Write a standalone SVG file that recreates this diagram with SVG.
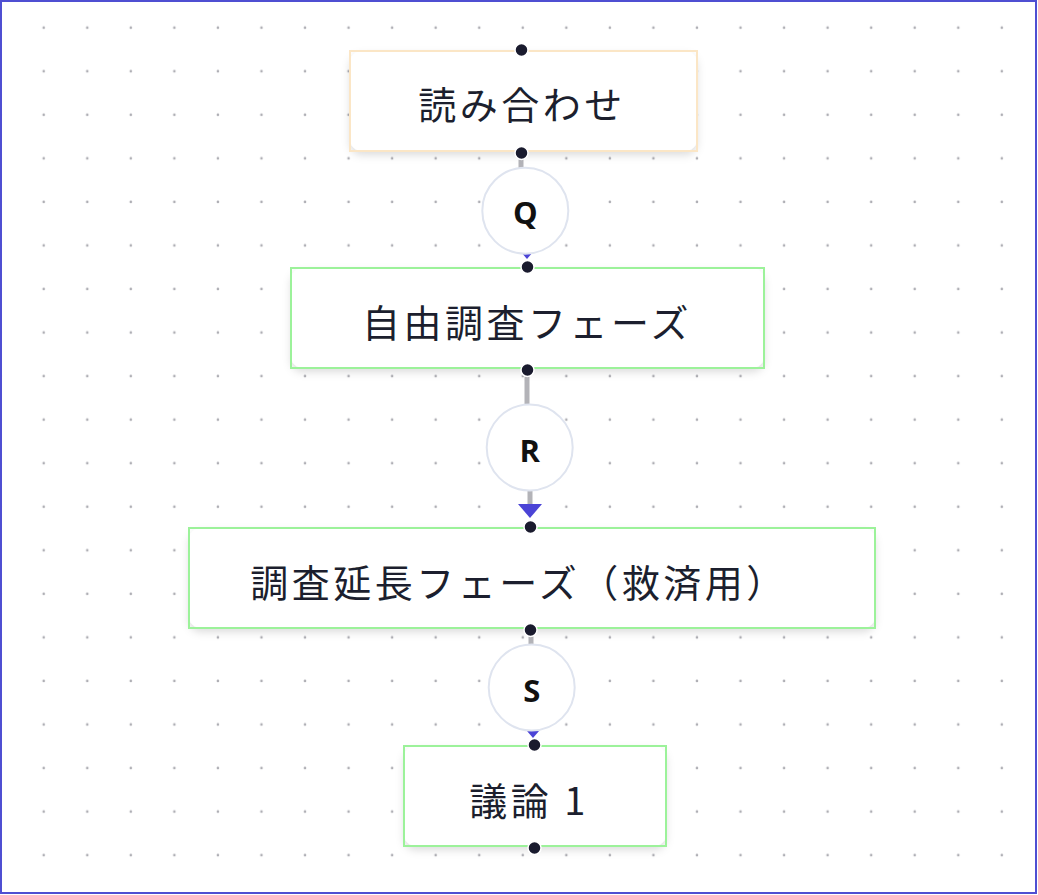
<svg xmlns="http://www.w3.org/2000/svg" width="1038" height="895" viewBox="0 0 1038 895">
  <style>
    .card { fill: #ffffff; filter: url(#shadow); }
    .frame-orange { fill: none; stroke: #fbe6c6; stroke-width: 2; }
    .frame-green { fill: none; stroke: #9cf29a; stroke-width: 2; }
    .label { font-family: "Noto Sans CJK JP", "Noto Sans", sans-serif; font-size: 38px; letter-spacing: 3.5px; fill: #1c1f2e; text-anchor: middle; dominant-baseline: central; }
    .edge { fill: none; stroke: #b3b3b8; stroke-width: 5; }
    .arrow { fill: #4b44d6; }
    .badge { fill: #ffffff; stroke: #dfe4ef; stroke-width: 2; }
    .badge-text { font-family: "Open Sans", "Noto Sans", sans-serif; font-weight: 700; font-size: 31px; fill: #111111; text-anchor: middle; dominant-baseline: central; }
    .handle { fill: #1a1b2e; stroke: #ffffff; stroke-width: 1.5; }
  </style>
  <defs>
    <pattern id="dots" patternUnits="userSpaceOnUse" x="22" y="6" width="43.55" height="43.55">
      <circle cx="21.7" cy="21.7" r="1.3" fill="#aeaeb4"/>
    </pattern>
    <filter id="shadow" x="-10%" y="-20%" width="120%" height="150%">
      <feDropShadow dx="0" dy="4" stdDeviation="4" flood-color="#000000" flood-opacity="0.14"/>
    </filter>
  </defs>

  <!-- canvas -->
  <rect x="0" y="0" width="1038" height="895" fill="#ffffff"/>
  <rect x="0" y="0" width="1038" height="895" fill="url(#dots)"/>
  <rect x="1" y="1" width="1035" height="892" fill="none" stroke="#4f4fd2" stroke-width="2"/>

  <!-- connectors -->
  <g id="connectors">
    <path class="edge" d="M521,156 L521,200 L527,200 L527,246"/>
    <polygon class="arrow" points="515,245 539,245 527,259"/>
    <path class="edge" d="M527,373 L527,404 M530,490 L530,506"/>
    <polygon class="arrow" points="518,504 542,504 530,518"/>
    <path class="edge" d="M531,633 L531,670 L533,670 L533,724"/>
    <polygon class="arrow" points="521,724 545,724 533,738"/>
  </g>

  <!-- edge labels -->
  <g id="label-q">
    <circle class="badge" cx="525.3" cy="210.7" r="43"/>
    <text class="badge-text" x="525.3" y="212">Q</text>
  </g>
  <g id="label-r">
    <circle class="badge" cx="529.7" cy="447.5" r="43"/>
    <text class="badge-text" x="529.7" y="450">R</text>
  </g>
  <g id="label-s">
    <circle class="badge" cx="531.7" cy="687.5" r="43"/>
    <text class="badge-text" x="531.7" y="690">S</text>
  </g>

  <!-- nodes -->
  <g id="node-read-through">
    <rect class="card" x="350" y="51" width="347" height="100" rx="12"/>
    <rect class="frame-orange" x="350" y="51" width="347" height="100"/>
    <text class="label" x="522" y="102">読み合わせ</text>
    <circle class="handle" cx="521.5" cy="50" r="6.5"/>
    <circle class="handle" cx="521.5" cy="153" r="6.5"/>
  </g>

  <g id="node-free-investigation">
    <rect class="card" x="291" y="268" width="473" height="100" rx="12"/>
    <rect class="frame-green" x="291" y="268" width="473" height="100"/>
    <text class="label" x="527" y="320">自由調査フェーズ</text>
    <circle class="handle" cx="527.5" cy="267" r="6.5"/>
    <circle class="handle" cx="527.5" cy="370" r="6.5"/>
  </g>

  <g id="node-extended-investigation">
    <rect class="card" x="189" y="528" width="686" height="100" rx="12"/>
    <rect class="frame-green" x="189" y="528" width="686" height="100"/>
    <text class="label" x="519" y="580">調査延長フェーズ（救済用）</text>
    <circle class="handle" cx="530.5" cy="527" r="6.5"/>
    <circle class="handle" cx="530.5" cy="630" r="6.5"/>
  </g>

  <g id="node-discussion-1">
    <rect class="card" x="404" y="746" width="262" height="100" rx="12"/>
    <rect class="frame-green" x="404" y="746" width="262" height="100"/>
    <text class="label" x="529" y="798">議論 1</text>
    <circle class="handle" cx="534.5" cy="745" r="6.5"/>
    <circle class="handle" cx="534.5" cy="848" r="6.5"/>
  </g>
</svg>
